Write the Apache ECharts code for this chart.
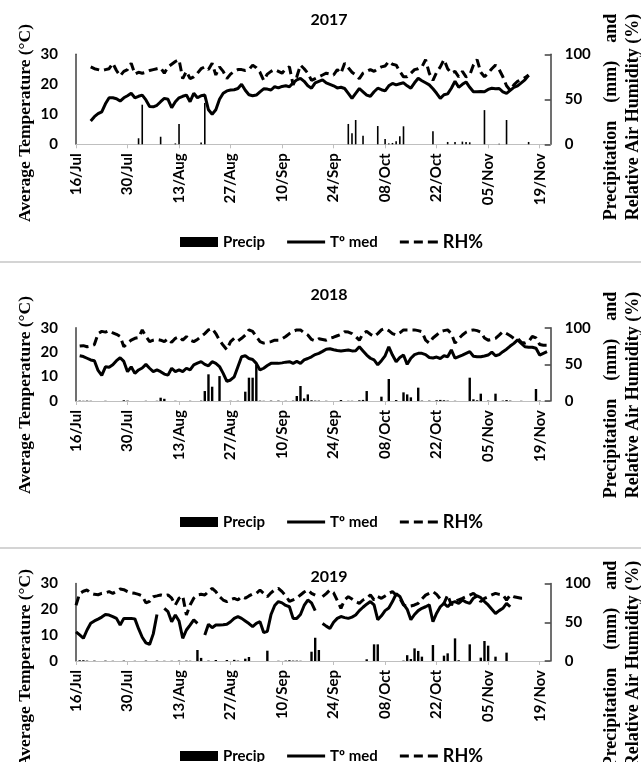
<!DOCTYPE html>
<html>
<head>
<meta charset="utf-8">
<script src="https://cdn.jsdelivr.net/npm/echarts@6/dist/echarts.min.js"></script>
<style>html,body{margin:0;padding:0;background:#fff;}#c{width:641px;height:762px;}</style>
</head>
<body>
<div id="c"></div>
<script>
// ---- data ----
const tickLabels = ['16/Jul','30/Jul','13/Aug','27/Aug','10/Sep','24/Sep','08/Oct','22/Oct','05/Nov','19/Nov'];
const years = ['2017','2018','2019'];

const temp2017 = [null,null,null,null,
 7.8,9.2,10.2,10.8,13.5,15.5,15.5,15.2,14.4,15.5,
 16.2,17,15.5,16,16.4,14.8,12.6,12.5,13,14.2,
 15.3,15,12.2,14.2,15.5,16,16.4,14.2,17,15.5,
 16.2,16.4,11.5,10,11.5,15,17,17.8,18.1,18.2,
 18.6,20,18,16.5,16.2,16.4,17.5,18.5,18.4,18.1,
 19.2,18.8,19.3,19.5,19.2,20.5,21.5,22,21,19.5,
 18.7,20.5,21,21.5,20.5,20,19.5,18.8,19,18.6,
 17,15.3,17,18.6,17.5,16.4,16,17.5,18.7,18.2,
 17.8,19.5,20.3,19.8,20.2,20.5,19.5,18.7,20.5,22,
 21.2,20.5,19.8,18.5,17,15.3,16.5,16.8,18.7,21,
 19,20,20.8,19,17.5,17.5,17.6,17.5,18.3,18.7,
 18.5,18.6,17.5,17,18,19,19.5,20.5,21.5,23];
const rh2017 = [null,null,null,null,
 86,84,83,82,83,84,90,82,76,81,
 83,90,78,80,79,80,82,83,84,85,
 79,86,89,92,94,73,81,73,75,79,
 84,86,83,90,77,86,81,73,78,81,
 83,83,82,83,88,85,80,71,78,81,
 83,81,79,84,86,66,75,88,84,79,
 71,73,75,77,79,78,77,83,79,90,
 85,80,77,73,79,81,83,81,84,86,
 87,92,89,88,81,75,75,79,83,84,
 86,94,79,71,80,86,94,84,79,81,
 75,81,75,77,88,94,80,75,79,84,
 88,83,75,65,60,66,70,72,74,77];
const precip2017 = [[17,6.7],[18,44],[23,8.4],[27,1],[28,22.6],[34,2],[35,46],[74,22.6],[75,12.2],[76,27],[78,9.6],[82,20.3],[84,5.9],[85,1],[86,1.5],[87,3.3],[88,8.9],[89,20],[97,14.4],[101,2.6],[103,2.6],[105,3],[106,2.6],[107,2.2],[111,38],[115,0.5],[117,27],[123,2.6]];

const temp2018 = [null,
 18.5,18.2,17.5,16.8,16.5,12.5,10.5,14,13.8,14.8,
 16.5,17.7,16.2,12,14,11.3,12.7,13.5,15,13.4,
 12,12.7,12,11,10.6,13.4,12,12.7,12,13.4,
 12.7,14.8,15.5,16.1,15,14.4,16.1,15.4,14.1,11.3,
 8,8.6,9.9,14,18.1,18.5,17.4,17,15.4,12.7,
 13.4,14.5,15.4,15.4,15.4,15.6,15.9,16.1,15.4,16.2,
 15.4,16.8,17.4,18.1,19,19.5,20.3,21.2,21.4,21,
 20.7,20.5,20.7,20.9,20.5,20.6,22.2,20.5,18.8,17.5,
 16.8,14.8,16.5,18.5,22.2,18.8,16.1,17.8,18.8,15,
 17.5,19,19.5,19.5,19,17.8,17.6,18,17.4,18.5,
 18.1,20.9,17.5,18.2,18.8,19.5,20.2,18.3,18.1,18.1,
 18.4,18.8,20,18.5,19,20.2,21.2,22.5,23.6,25,
 23.6,22.2,22,22,21.6,18.8,19.5,20.2];
const rh2018 = [null,
 75,75.5,74,75,77,92,95,94,96,93,
 91,88,74,79,83,85.5,86.4,97,88,81,
 83,84,83,81,85,80,85.5,87.8,83,87.8,
 83,81,84,88,92,97,99,92,83,76,
 70,81,85.5,82,85.5,90,97,95,88,81,
 79,80,81,83,83,85,88,92,95,97,
 97,93,90,84,82,85,84,83,85.5,87,
 89,91,94.6,94,92,88,83,92,95,91,
 88,92,97,99,96,92,90,93,97,97,
 97,97,96,94.6,83,79,86,90,94.6,96,
 97,92,79,85,90,94,96,97,96,94,
 86,83,84,85.5,90,94.6,92,89,85.5,85.5,
 80,79,81,88,86,77,76,76];
const precip2018 = [[1,0.5],[2,0.3],[3,0.5],[4,0.3],[8,0.3],[13,1],[14,0.5],[19,0.3],[22,0.3],[23,4.5],[24,3],[27,0.3],[31,0.3],[34,0.5],[35,13.6],[36,36.4],[37,19.5],[39,34],[42,0.3],[44,0.3],[46,12.7],[47,31.8],[48,31.8],[49,50],[50,0.5],[51,0.3],[53,0.5],[55,0.5],[57,0.3],[59,0.5],[60,6.8],[61,20.5],[62,3.6],[63,9],[64,1],[65,0.5],[66,0.5],[68,0.3],[72,1.3],[74,0.3],[75,0.3],[77,1],[78,1.5],[79,13.6],[83,5.9],[85,30],[87,1.3],[89,11.8],[90,9],[91,5],[93,18.2],[94,0.5],[96,0.5],[98,1],[99,1.5],[100,1],[101,0.5],[103,0.3],[107,31.8],[108,2.3],[109,1],[110,10],[112,0.5],[114,10],[116,0.5],[117,1.3],[118,0.5],[121,0.3],[125,16.4],[126,0.5]];

const temp2019 = [
 11.3,10.1,8.8,12,14.6,15.5,16.2,17,18,17.8,
 17.2,16.5,13.9,16.5,16.5,16.5,16.3,12.5,9.2,7,
 6.4,10.5,18,null,20.4,19.1,15.2,17.8,15.5,8.8,
 12,13.9,15.9,14.6,null,10.1,14.2,12.9,13.9,13.9,
 14,14.2,15.2,16.5,17.2,16.5,15.5,14.5,13.3,14.6,
 15.2,11,11.5,18,21.5,23,22.5,21.5,21,16.5,
 16.5,18,21.5,23.6,22.5,19.5,null,14.5,13.5,12.6,
 15,16.5,17.2,16.8,16.5,17,17.8,19.5,20.8,22,
 23,21.7,16,17.5,19.5,20.5,23,26,25,22,
 20,16,18,19.5,20.4,21,21.7,15.2,18.5,21,
 22.3,21,22.5,23,22.3,23.6,22.8,22.3,24.3,25.2,
 24.5,23,21.7,20,18.4,19.5,20.4,22.3,21];
const rh2019 = [
 72,87,90,91.6,87.3,86,85.5,87.3,88,89.5,
 87.3,90,93,92,89.5,88,87.3,86,84,75,
 77,83,84,85.2,84,85.2,81,72.3,81,84,
 59.4,72.3,81,85.2,86,85.2,89.5,93.8,89.5,83,
 78.7,76.6,79,80.9,78.7,83,81,84,86.5,87.3,
 91.6,87.3,83,88,92,93.8,89.5,84,77,79,
 80.9,85.2,89,91.6,87.3,85,null,83,87,91.6,
 88,78,68,78.7,83,80,76.6,74.4,78.7,80.9,
 85.2,78.7,83,80.9,84,87.3,89.5,85,80.9,72.3,
 70.2,71,72.3,74.4,80,85,87.3,89.5,86,80,
 74.4,85.2,72.3,77,79,80.9,83,85,87.3,83,
 76.6,80.9,83,85.2,87.3,86,85.2,78.7,85.2,83,
 82,80.9,80.9];
const precip2019 = [[1,1],[2,1],[3,0.5],[5,0.5],[8,0.5],[10,0.3],[13,0.5],[16,0.3],[19,0.5],[22,0.5],[24,0.3],[26,0.3],[28,0.5],[30,0.5],[31,0.3],[33,14.2],[34,4],[36,0.5],[38,1.3],[41,1.3],[43,1.5],[44,0.5],[46,3],[47,5.2],[52,13.3],[55,0.3],[57,0.5],[58,1],[59,0.5],[60,0.5],[61,0.3],[64,12],[65,30],[66,14.2],[79,2.2],[81,21.5],[82,21.5],[89,0.5],[90,7.5],[91,2.6],[92,16.3],[93,13],[94,5.6],[97,20.6],[100,6.9],[101,9.9],[103,29.2],[104,1],[107,21.5],[110,4.3],[111,25.8],[112,19.8],[114,5.6],[117,10.8]];

const N_DAYS = 130; // 16/Jul .. 22/Nov
const dayIndex = Array.from({length: N_DAYS}, (_, i) => String(i));

// ---- layout ----
const panels = [
  {top: 54.3, height: 90, legendTop: 228, titleY: 20, lc: 123, rc: 117, temp: temp2017, rh: rh2017, precip: precip2017, barW: 1.6},
  {top: 327.7, height: 73.3, legendTop: 508, titleY: 295, lc: 395, rc: 395, temp: temp2018, rh: rh2018, precip: precip2018, barW: 2.4},
  {top: 583.5, height: 77.5, legendTop: 742, titleY: 577, lc: 668, rc: 664, temp: temp2019, rh: rh2019, precip: precip2019, barW: 2.4}
];

const FONT = 'Lato';
const ICON_SOLID = 'path://M0,0H38V3H0Z';
const ICON_DASH = 'path://M0,0H9V3H0Z M14,0H23V3H14Z M28,0H38V3H28Z';
const grid = [], xAxis = [], yAxis = [], series = [], legend = [], graphic = [];

panels.forEach((p, k) => {
  grid.push({left: 76, right: 90.3, top: p.top, height: p.height, containLabel: false});
  xAxis.push({
    type: 'category', gridIndex: k, data: dayIndex, boundaryGap: false,
    axisLine: {show: true, lineStyle: {color: '#bfbfbf', width: 1}},
    axisTick: {show: true, interval: 13, length: 4, lineStyle: {color: '#bfbfbf', width: 1}},
    axisLabel: {interval: 13, rotate: 90, margin: 9, fontFamily: FONT, fontWeight: 'bold', fontSize: 15, color: '#000',
      formatter: (v) => { const i = Number(v); return i % 14 === 0 ? (tickLabels[i / 14] || '') : ''; }},
    splitLine: {show: false}
  });
  yAxis.push({
    type: 'value', gridIndex: k, position: 'left', min: 0, max: 30, interval: 10,
    axisLine: {show: true, lineStyle: {color: '#404040', width: 1.5}},
    axisTick: {show: false}, splitLine: {show: false},
    axisLabel: {fontFamily: FONT, fontWeight: 'bold', fontSize: 15, color: '#000', margin: 18}
  });
  yAxis.push({
    type: 'value', gridIndex: k, position: 'right', min: 0, max: 100, interval: 50,
    axisLine: {show: true, lineStyle: {color: '#404040', width: 1.5}},
    axisTick: {show: true, inside: true, length: 6, lineStyle: {color: '#404040', width: 1.5}},
    splitLine: {show: false},
    axisLabel: {fontFamily: FONT, fontWeight: 'bold', fontSize: 15, color: '#000', margin: 14}
  });
  series.push({
    type: 'bar', name: 'Precip', xAxisIndex: k, yAxisIndex: 2 * k + 1, data: p.precip,
    barWidth: p.barW, itemStyle: {color: '#000'}, z: 1, silent: true
  });
  series.push({
    type: 'line', name: 'Tº med', xAxisIndex: k, yAxisIndex: 2 * k, data: p.temp,
    symbol: 'none', showSymbol: false, connectNulls: false,
    lineStyle: {color: '#000', width: 3, type: 'solid'}, itemStyle: {color: '#000'}, z: 3, silent: true
  });
  series.push({
    type: 'line', name: 'RH%', xAxisIndex: k, yAxisIndex: 2 * k + 1, data: p.rh,
    symbol: 'none', showSymbol: false, connectNulls: false,
    lineStyle: {color: '#000', width: 3, type: [9, 5]}, itemStyle: {color: '#000'}, z: 3, silent: true
  });
  legend.push({
    top: p.legendTop, left: 175, orient: 'horizontal', itemWidth: 38, itemHeight: 10, itemGap: 22,
    selectedMode: false,
    textStyle: {fontFamily: FONT, fontWeight: 'bold', fontSize: 15, color: '#000'},
    data: [
      {name: 'Precip', icon: 'rect', itemStyle: {color: '#000'}},
      {name: 'Tº med', icon: ICON_SOLID, itemStyle: {color: '#000'}},
      {name: 'RH%', icon: ICON_DASH, itemStyle: {color: '#000'}, textStyle: {fontSize: 18, fontWeight: 'bold', fontFamily: FONT, color: '#000'}}
    ]
  });
  graphic.push({type: 'text', x: 329, y: p.titleY, z: 10,
    style: {text: years[k], fontFamily: FONT, fontWeight: 'bold', fontSize: 16, fill: '#000', align: 'center', verticalAlign: 'middle', textAlign: 'center', textVerticalAlign: 'middle'}});
  graphic.push({type: 'text', x: 25, y: p.lc, rotation: Math.PI / 2, z: 10,
    style: {text: 'Average Temperature (°C)', fontFamily: 'Liberation Serif', fontWeight: 'bold', fontSize: 17.5, fill: '#000', align: 'center', verticalAlign: 'middle', textAlign: 'center', textVerticalAlign: 'middle'}});
  graphic.push({type: 'text', x: 611.5, y: p.rc, rotation: Math.PI / 2, z: 10,
    style: {text: 'Precipitation    (mm)    and', fontFamily: 'Liberation Serif', fontWeight: 'bold', fontSize: 18, fill: '#000', align: 'center', verticalAlign: 'middle', textAlign: 'center', textVerticalAlign: 'middle'}});
  graphic.push({type: 'text', x: 633, y: p.rc, rotation: Math.PI / 2, z: 10,
    style: {text: 'Relative Air Humidity (%)', fontFamily: 'Liberation Serif', fontWeight: 'bold', fontSize: 18, fill: '#000', align: 'center', verticalAlign: 'middle', textAlign: 'center', textVerticalAlign: 'middle'}});
});

graphic.push({type: 'line', shape: {x1: 0, y1: 262, x2: 641, y2: 262}, style: {stroke: '#d4d4d4', lineWidth: 2}});
graphic.push({type: 'line', shape: {x1: 0, y1: 548, x2: 641, y2: 548}, style: {stroke: '#d4d4d4', lineWidth: 2}});

const chart = echarts.init(document.getElementById('c'), null, {renderer: 'canvas', width: 641, height: 762});
chart.setOption({
  backgroundColor: '#fff',
  animation: false,
  grid, xAxis, yAxis, series, legend, graphic,
  tooltip: {show: false}
});
</script>
</body>
</html>
